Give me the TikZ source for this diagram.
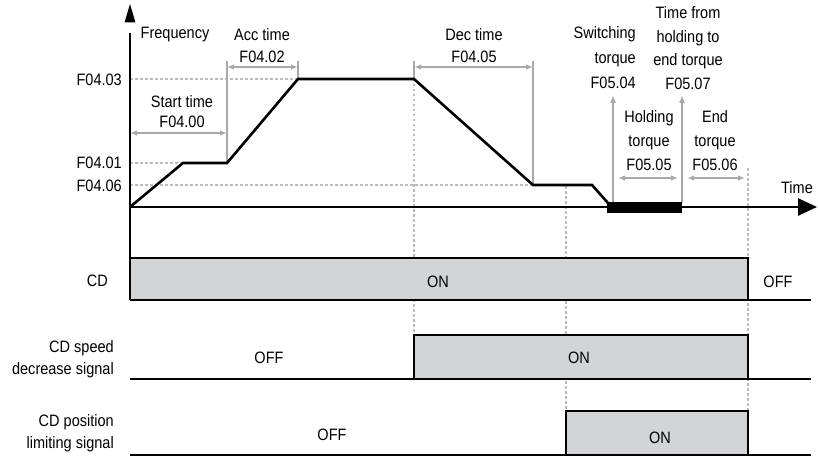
\documentclass[tikz,border=0pt]{standalone}
\usepackage{fontspec}
\setmainfont{Liberation Sans}[FakeStretch=0.88]
\usetikzlibrary{arrows.meta}
\definecolor{boxgray}{RGB}{211,212,214}
\definecolor{dimgray}{RGB}{168,168,168}
\definecolor{dotgray}{RGB}{188,188,188}
\begin{document}
\begin{tikzpicture}[x=1pt,y=-1pt,
  txt/.style={inner sep=0pt, font=\fontsize{16.5}{18}\selectfont},
  ml/.style={inner sep=0pt, align=center, font=\fontsize{16.5}{#1}\selectfont},
  curve/.style={line width=2.6pt, line join=miter},
  axis/.style={line width=2.6pt},
  dimarr/.style={dimgray, line width=1.6pt, {Latex[length=7pt,width=5.5pt]}-{Latex[length=7pt,width=5.5pt]}},
  uparr/.style={dimgray, line width=1.6pt, -{Latex[length=8pt,width=6pt]}},
  guide/.style={dimgray, line width=1.6pt},
  dots/.style={dotgray, line width=1.5pt, dash pattern=on 2.5pt off 2.5pt},
  sig/.style={draw=black, line width=2.6pt, line join=miter},
]
\useasboundingbox (0,0) rectangle (818,457);
% coordinates
\coordinate (O) at (130,207);
\coordinate (yTop) at (130,33);
\coordinate (yBot) at (130,300);
\coordinate (xEnd) at (817,207);
\coordinate (p1) at (183,163);
\coordinate (p2) at (227,163);
\coordinate (p3) at (298,79);
\coordinate (p4) at (414,79);
\coordinate (p5) at (533,185);
\coordinate (p6) at (592,185);
\coordinate (p7) at (608,203);
\coordinate (l03) at (130,79);
\coordinate (l01) at (130,163);
\coordinate (l06) at (130,185);
% dotted guides
\draw[dots] (l03) -- (p3);
\draw[dots] (l01) -- (p1);
\draw[dots] (l06) -- (p5);
\coordinate (d1a) at (414,79);  \coordinate (d1b) at (414,335);
\coordinate (d2a) at (566,186); \coordinate (d2b) at (566,411);
\coordinate (d3a) at (748,168); \coordinate (d3b) at (748,455);
\draw[dots] (d1a) -- (d1b);
\draw[dots] (d2a) -- (d2b);
\draw[dots] (d3a) -- (d3b);
% solid gray guides
\coordinate (g1) at (227,61); \coordinate (g2) at (298,61);
\coordinate (g3) at (414,61); \coordinate (g4) at (533,61);
\draw[guide] (g1) -- (p2);
\draw[guide] (g2) -- (p3);
\draw[guide] (g3) -- (p4);
\draw[guide] (g4) -- (p5);
% dimension arrows
\coordinate (s1) at (130,133); \coordinate (s2) at (227,133);
\coordinate (a1) at (227,67);  \coordinate (a2) at (298,67);
\coordinate (e1) at (414,67);  \coordinate (e2) at (533,67);
\coordinate (h1) at (618,178); \coordinate (h2) at (678,178);
\coordinate (t1) at (687,178); \coordinate (t2) at (745,178);
\draw[dimarr] (s1) -- (s2);
\draw[dimarr] (a1) -- (a2);
\draw[dimarr] (e1) -- (e2);
\draw[dimarr] (h1) -- (h2);
\draw[dimarr] (t1) -- (t2);
\coordinate (u1a) at (613,203); \coordinate (u1b) at (613,95);
\coordinate (u2a) at (682,203); \coordinate (u2b) at (682,95);
\draw[uparr] (u1a) -- (u1b);
\draw[uparr] (u2a) -- (u2b);
% signal boxes
\coordinate (c1) at (130,258); \coordinate (c2) at (748,300);
\fill[boxgray] (c1) rectangle (c2);
\coordinate (sp1) at (414,335); \coordinate (sp2) at (748,379);
\fill[boxgray] (sp1) rectangle (sp2);
\coordinate (ps1) at (566,411); \coordinate (ps2) at (748,455);
\fill[boxgray] (ps1) rectangle (ps2);
\draw[sig] (c1) -- (c1 -| c2) -- (c2);
\draw[sig] (sp1 |- sp2) -- (sp1) -- (sp1 -| sp2) -- (sp2);
\draw[sig] (ps1 |- ps2) -- (ps1) -- (ps1 -| ps2) -- (ps2);
\coordinate (b1) at (811,300); \coordinate (b2) at (811,379); \coordinate (b3) at (811,455);
\coordinate (r2) at (130,379); \coordinate (r3) at (130,455);
\draw[axis] (yBot) -- (b1);
\draw[axis] (r2) -- (b2);
\draw[axis] (r3) -- (b3);
% axes
\draw[axis] (yTop) -- (yBot);
\draw[axis, -{Triangle[length=19pt,width=17pt]}] (O) -- (xEnd);
\coordinate (yt1) at (124.5,22.5); \coordinate (yt2) at (130,4); \coordinate (yt3) at (135.5,22.5);
\fill (yt1) -- (yt2) -- (yt3) -- cycle;
% frequency curve
\draw[curve] (O) -- (p1) -- (p2) -- (p3) -- (p4) -- (p5) -- (p6) -- (p7);
\coordinate (bar1) at (607,202); \coordinate (bar2) at (682,213);
\fill (bar1) rectangle (bar2);
% texts
\node[txt] (freq) at (175,35) {Frequency};
\node[txt] (time) at (797,188) {Time};
\node[txt, anchor=east] (f0403) at (122,80) {F04.03};
\node[txt, anchor=east] (f0401) at (122,163) {F04.01};
\node[txt, anchor=east] (f0406) at (122,186) {F04.06};
\node[ml=20] (start) at (182,112) {Start time\\F04.00};
\node[ml=22] (acc) at (262,46) {Acc time\\F04.02};
\node[ml=22] (dec) at (474,46) {Dec time\\F04.05};
\node[ml=25, align=right, anchor=east] (sw) at (636,58) {Switching\\torque\\F05.04};
\node[ml=23.5] (tfh) at (688,48) {Time from\\holding to\\end torque\\F05.07};
\node[ml=24] (hold) at (649,141) {Holding\\torque\\F05.05};
\node[ml=24] (endt) at (715,141) {End\\torque\\F05.06};
\node[txt, anchor=east] (cd) at (108,281) {CD};
\node[ml=22, align=right, anchor=east] (cds) at (114,359) {CD speed\\decrease signal};
\node[ml=22, align=right, anchor=east] (cdp) at (114,433) {CD position\\limiting signal};
\node[txt] (on1) at (438,282) {ON};
\node[txt] (off1) at (778,282) {OFF};
\node[txt] (off2) at (269,358) {OFF};
\node[txt] (on2) at (579,358) {ON};
\node[txt] (off3) at (332,435) {OFF};
\node[txt] (on3) at (660,438) {ON};
\end{tikzpicture}
\end{document}
